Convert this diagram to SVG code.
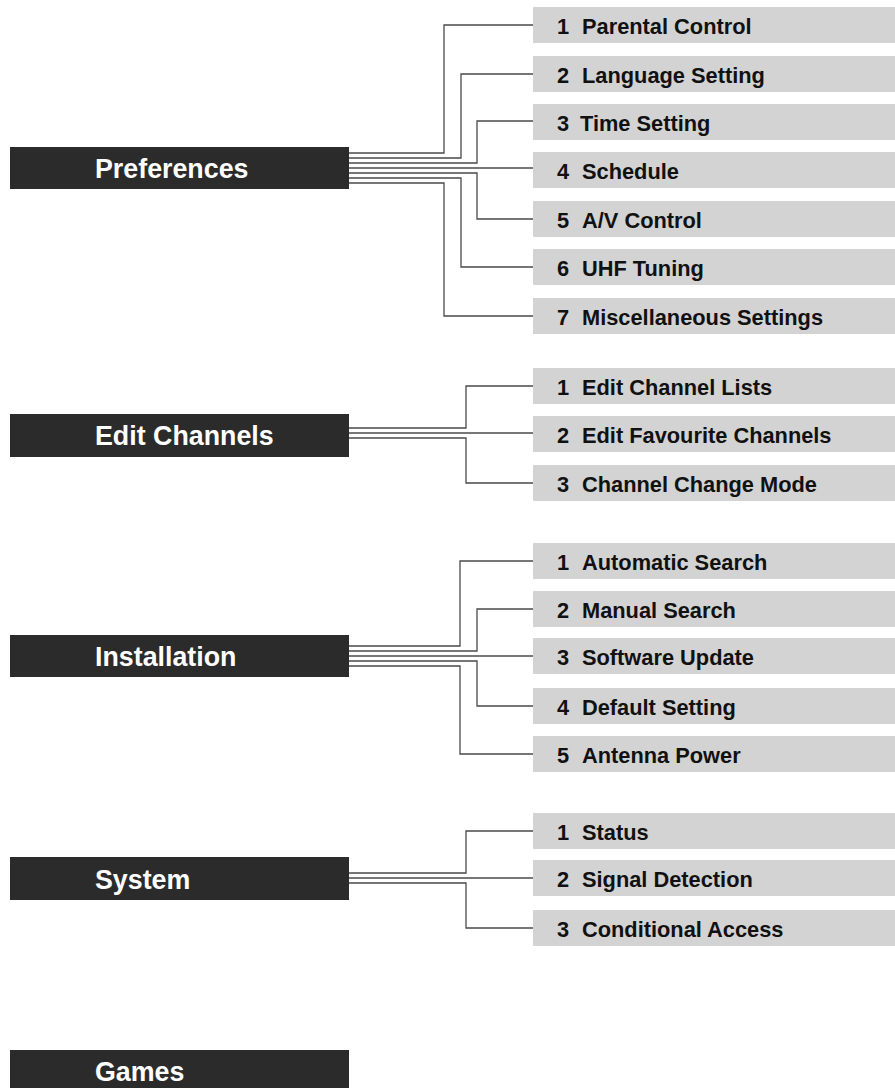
<svg xmlns="http://www.w3.org/2000/svg" width="895" height="1088" viewBox="0 0 895 1088">
<style>
.hd{fill:#2b2b2b}
.ht{fill:#ffffff;font-family:"Liberation Sans",Arial,sans-serif;font-weight:bold;font-size:26.8px}
.it{fill:#d3d3d3}
.tt{fill:#111111;font-family:"Liberation Sans",Arial,sans-serif;font-weight:bold;font-size:21.8px}
.cn path{fill:none;stroke:#4a4a4a;stroke-width:1.3}
</style>
<rect width="895" height="1088" fill="#ffffff"/>
<g class="cn" id="connectors">
<path d="M349,153H444V25H533"/>
<path d="M349,158H461V74H533"/>
<path d="M349,163H477V121H533"/>
<path d="M349,168H533"/>
<path d="M349,173H477V219H533"/>
<path d="M349,178H461V267H533"/>
<path d="M349,183H444V316H533"/>
<path d="M349,428H466V386H533"/>
<path d="M349,433H533"/>
<path d="M349,438H466V483H533"/>
<path d="M349,646H460V561H533"/>
<path d="M349,651H477V609H533"/>
<path d="M349,656H533"/>
<path d="M349,661H477V706H533"/>
<path d="M349,666H460V754H533"/>
<path d="M349,873H466V831H533"/>
<path d="M349,878H533"/>
<path d="M349,883H466V928H533"/>
</g>
<g id="preferences"><rect class="hd" x="10" y="147" width="339" height="42"/><text class="ht" x="95" y="178">Preferences</text></g>
<g id="pref-1"><rect class="it" x="533" y="7" width="362" height="36"/><text class="tt" x="557" y="34">1<tspan x="582">Parental Control</tspan></text></g>
<g id="pref-2"><rect class="it" x="533" y="56" width="362" height="36"/><text class="tt" x="557" y="83">2<tspan x="582">Language Setting</tspan></text></g>
<g id="pref-3"><rect class="it" x="533" y="104" width="362" height="36"/><text class="tt" x="557" y="131">3<tspan x="580">Time Setting</tspan></text></g>
<g id="pref-4"><rect class="it" x="533" y="152" width="362" height="36"/><text class="tt" x="557" y="179">4<tspan x="582">Schedule</tspan></text></g>
<g id="pref-5"><rect class="it" x="533" y="201" width="362" height="36"/><text class="tt" x="557" y="228">5<tspan x="582">A/V Control</tspan></text></g>
<g id="pref-6"><rect class="it" x="533" y="249" width="362" height="36"/><text class="tt" x="557" y="276">6<tspan x="582">UHF Tuning</tspan></text></g>
<g id="pref-7"><rect class="it" x="533" y="298" width="362" height="36"/><text class="tt" x="557" y="325">7<tspan x="582">Miscellaneous Settings</tspan></text></g>
<g id="edit-channels"><rect class="hd" x="10" y="414" width="339" height="43"/><text class="ht" x="95" y="445">Edit Channels</text></g>
<g id="edit-1"><rect class="it" x="533" y="368" width="362" height="36"/><text class="tt" x="557" y="395">1<tspan x="582">Edit Channel Lists</tspan></text></g>
<g id="edit-2"><rect class="it" x="533" y="416" width="362" height="36"/><text class="tt" x="557" y="443">2<tspan x="582">Edit Favourite Channels</tspan></text></g>
<g id="edit-3"><rect class="it" x="533" y="465" width="362" height="36"/><text class="tt" x="557" y="492">3<tspan x="582">Channel Change Mode</tspan></text></g>
<g id="installation"><rect class="hd" x="10" y="635" width="339" height="42"/><text class="ht" x="95" y="666">Installation</text></g>
<g id="inst-1"><rect class="it" x="533" y="543" width="362" height="36"/><text class="tt" x="557" y="570">1<tspan x="582">Automatic Search</tspan></text></g>
<g id="inst-2"><rect class="it" x="533" y="591" width="362" height="36"/><text class="tt" x="557" y="618">2<tspan x="582">Manual Search</tspan></text></g>
<g id="inst-3"><rect class="it" x="533" y="638" width="362" height="36"/><text class="tt" x="557" y="665">3<tspan x="582">Software Update</tspan></text></g>
<g id="inst-4"><rect class="it" x="533" y="688" width="362" height="36"/><text class="tt" x="557" y="715">4<tspan x="582">Default Setting</tspan></text></g>
<g id="inst-5"><rect class="it" x="533" y="736" width="362" height="36"/><text class="tt" x="557" y="763">5<tspan x="582">Antenna Power</tspan></text></g>
<g id="system"><rect class="hd" x="10" y="857" width="339" height="43"/><text class="ht" x="95" y="889">System</text></g>
<g id="sys-1"><rect class="it" x="533" y="813" width="362" height="36"/><text class="tt" x="557" y="840">1<tspan x="582">Status</tspan></text></g>
<g id="sys-2"><rect class="it" x="533" y="860" width="362" height="36"/><text class="tt" x="557" y="887">2<tspan x="582">Signal Detection</tspan></text></g>
<g id="sys-3"><rect class="it" x="533" y="910" width="362" height="36"/><text class="tt" x="557" y="937">3<tspan x="582">Conditional Access</tspan></text></g>
<g id="games"><rect class="hd" x="10" y="1050" width="339" height="42"/><text class="ht" x="95" y="1081">Games</text></g>
</svg>
